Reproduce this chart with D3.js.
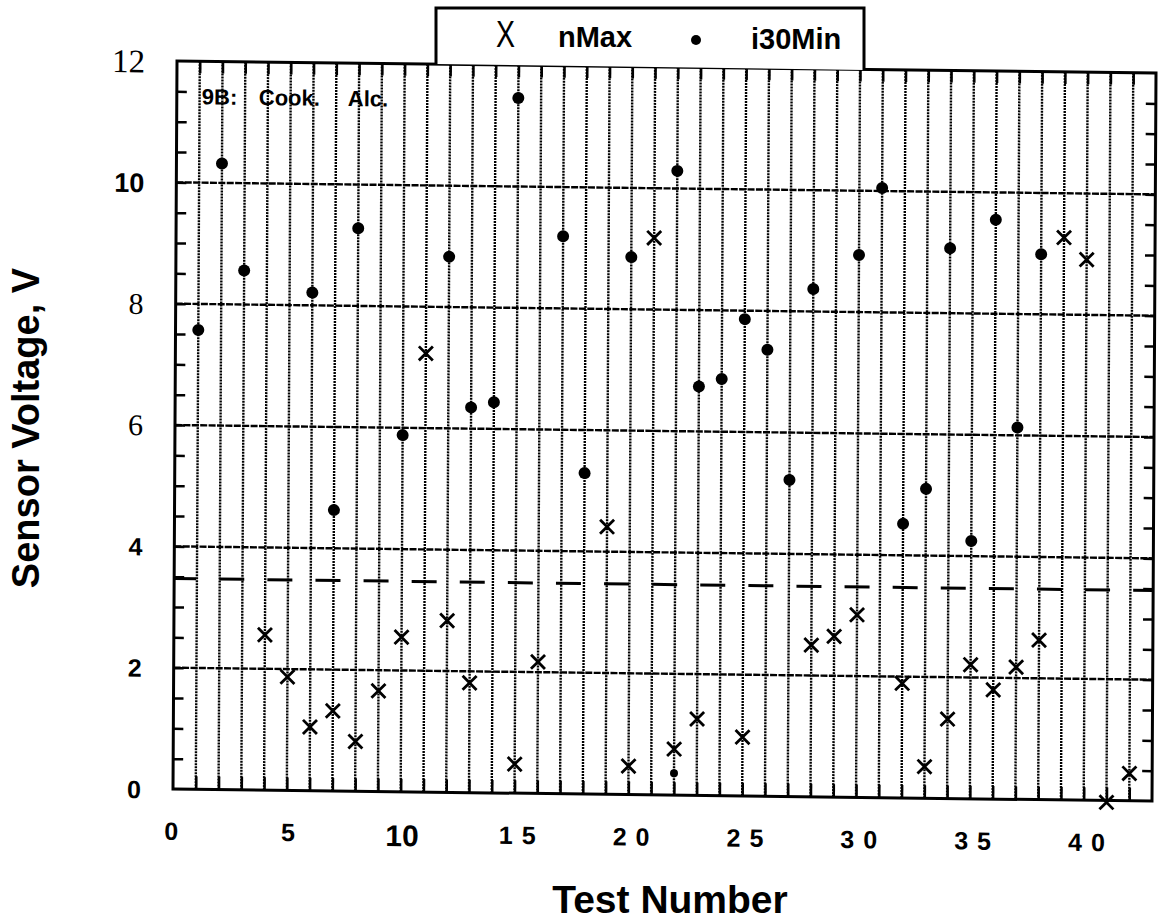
<!DOCTYPE html>
<html><head><meta charset="utf-8">
<script src="https://cdn.jsdelivr.net/npm/d3@7"></script>
<style>
html,body{margin:0;padding:0;background:#fff;}
svg{display:block;background:#fff;}
text{fill:#000;}
</style></head>
<body><svg id="chart" width="1163" height="922"></svg>
<script>
// ---- data ----
const tests = d3.range(1, 43);
const nMax = [null,null,null,2.56,1.87,1.05,1.32,0.82,1.66,2.55,7.23,2.83,1.81,null,0.48,2.17,null,null,4.41,0.47,9.18,0.76,1.26,null,0.97,null,null,2.50,2.65,3.01,null,1.89,0.52,1.31,2.21,1.80,2.18,2.63,9.27,8.91,-0.03,0.45];
const i30Min = [7.57,10.32,8.56,null,null,8.21,4.63,9.28,null,5.88,null,8.83,6.35,6.44,11.46,null,9.19,5.29,null,8.86,null,10.29,6.74,6.87,7.86,7.36,5.22,8.37,null,8.94,10.05,4.52,5.10,9.07,4.25,9.55,6.13,8.99,null,null,null,null];
const strayTests = [22];
const strayValues = [0.36];
const refLevel = [3.47];
const yGridValues = [2, 4, 6, 8, 10];
const yLabelValues = [0, 2, 4, 6, 8, 10, 12];
const serifLabels = [12, 8, 6];
const xLabelValues = [0, 5, 10, 15, 20, 25, 30, 35, 40];
const seriesNames = ["nMax", "i30Min"];
const panelWords = ["9B:", "Cook.", "Alc."];
const xTitle = "Test Number";
const yTitle = "Sensor Voltage, V";

// ---- layout ----
const ox = 173, oy = 789;
const x = d3.scaleLinear().domain([0, 43]).range([173, 1152]);
const y = d3.scaleLinear().domain([0, 12]).range([789, 61]);
const svg = d3.select("#chart");
const SANS = "'Liberation Sans', Arial, Helvetica, sans-serif";
const SERIF = "'Liberation Serif', 'Times New Roman', serif";

// scanned page is slightly skewed
const g = svg.append("g")
  .attr("transform", `translate(${ox},${oy}) matrix(1,0.0123,-0.0055,1,0,0) translate(${-ox},${-oy})`);

// vertical dotted grid
g.append("g").selectAll("line").data(tests).join("line")
  .attr("x1", d => x(d)).attr("x2", d => x(d))
  .attr("y1", y(0)).attr("y2", y(12))
  .attr("stroke", "#000").attr("stroke-width", 2.4)
  .attr("stroke-dasharray", "2,1");

// horizontal grid
g.append("g").selectAll("line").data(yGridValues).join("line")
  .attr("x1", x(0)).attr("x2", x(43))
  .attr("y1", d => y(d)).attr("y2", d => y(d))
  .attr("stroke", "#000").attr("stroke-width", 2.4)
  .attr("stroke-dasharray", "7,1.4");

// reference dashed level
g.append("g").selectAll("line").data(refLevel).join("line")
  .attr("x1", x(0)).attr("x2", x(43))
  .attr("y1", d => y(d)).attr("y2", d => y(d))
  .attr("stroke", "#000").attr("stroke-width", 3)
  .attr("stroke-dasharray", "25,23.1").attr("stroke-dashoffset", 3);

// inward ticks
function clean(sel){ sel.select(".domain").remove(); sel.selectAll(".tick line").attr("stroke","#000").attr("stroke-width",2.5); }
g.append("g").attr("transform", `translate(0,${y(0)})`)
  .call(d3.axisBottom(x).tickValues(tests).tickSize(-13).tickFormat("")).call(clean);
g.append("g").attr("transform", `translate(0,${y(12)})`)
  .call(d3.axisTop(x).tickValues(tests).tickSize(-12).tickFormat("")).call(clean);
g.append("g").attr("transform", `translate(${x(0)},0)`)
  .call(d3.axisLeft(y).tickValues(d3.range(0.5, 12, 0.5)).tickSize(-10).tickFormat("")).call(clean);
g.append("g").attr("transform", `translate(${x(43)},0)`)
  .call(d3.axisRight(y).tickValues(d3.range(0.5, 12, 0.5)).tickSize(-10).tickFormat("")).call(clean);

// frame
g.append("rect").attr("x", x(0)).attr("y", y(12))
  .attr("width", x(43) - x(0)).attr("height", y(0) - y(12))
  .attr("fill", "none").attr("stroke", "#000").attr("stroke-width", 3);

// y tick labels
const yl = g.append("g").attr("transform", `translate(${x(0)},0)`)
  .call(d3.axisLeft(y).tickValues(yLabelValues).tickSize(0).tickPadding(32).tickFormat(d3.format("d")));
yl.select(".domain").remove();
yl.selectAll(".tick text")
  .attr("fill", "#000")
  .style("font-family", d => serifLabels.includes(d) ? SERIF : SANS)
  .style("font-weight", d => serifLabels.includes(d) ? "normal" : "bold")
  .style("font-size", d => d === 12 ? "33px" : serifLabels.includes(d) ? "30px" : d === 10 ? "27px" : "25px")
  .attr("dy", d => serifLabels.includes(d) ? "0.34em" : "0.36em");

// x tick labels
const xl = g.append("g").attr("transform", `translate(0,${y(0)})`)
  .call(d3.axisBottom(x).tickValues(xLabelValues).tickSize(0).tickPadding(33).tickFormat(d3.format("d")));
xl.select(".domain").remove();
xl.selectAll(".tick text")
  .attr("fill", "#000")
  .style("font-family", SANS).style("font-weight", "bold")
  .style("font-size", d => d === 10 ? "30px" : "25px")
  .style("letter-spacing", d => d >= 15 ? "9px" : "0px")
  .attr("dx", d => d >= 15 ? 7 : d === 0 ? -2 : 1);

// panel label
const pl = g.append("text").attr("y", 104)
  .style("font-family", SANS).style("font-weight", "bold").style("font-size", "22px");
pl.selectAll("tspan").data(panelWords).join("tspan")
  .attr("x", (d, i) => [198, 255, 344][i]).text(d => d);

// markers
const xPath = "M-7,-7L7,7M-7,7L7,-7";
g.append("g").selectAll("path")
  .data(tests.map((t, i) => ({t, v: nMax[i]})).filter(d => d.v !== null))
  .join("path")
  .attr("transform", d => `translate(${x(d.t)},${y(d.v)})`)
  .attr("d", xPath).attr("fill", "none").attr("stroke", "#000").attr("stroke-width", 2.8);
g.append("g").selectAll("circle")
  .data(tests.map((t, i) => ({t, v: i30Min[i]})).filter(d => d.v !== null))
  .join("circle")
  .attr("cx", d => x(d.t)).attr("cy", d => y(d.v)).attr("r", 6).attr("fill", "#000");
g.append("g").selectAll("circle")
  .data(strayTests.map((t, i) => ({t, v: strayValues[i]})))
  .join("circle")
  .attr("cx", d => x(d.t)).attr("cy", d => y(d.v)).attr("r", 4).attr("fill", "#000");

// legend
const lg = svg.append("g");
lg.append("path").attr("d", "M436,64V8H864V70").attr("fill", "#fff").attr("stroke", "#000").attr("stroke-width", 3);
lg.append("text").attr("x", 496).attr("y", 47).attr("textLength", 19).attr("lengthAdjust", "spacingAndGlyphs")
  .style("font-family", SANS).style("font-size", "37px").text("X");
lg.append("text").attr("x", 558).attr("y", 47)
  .style("font-family", SANS).style("font-weight", "bold").style("font-size", "29px").text(seriesNames[0]);
lg.append("circle").attr("cx", 696).attr("cy", 40).attr("r", 5).attr("fill", "#000");
lg.append("text").attr("x", 751).attr("y", 49)
  .style("font-family", SANS).style("font-weight", "bold").style("font-size", "29px").text(seriesNames[1]);

// axis titles
svg.append("text").attr("transform", "translate(39,428) rotate(-90)")
  .attr("text-anchor", "middle")
  .style("font-family", SANS).style("font-weight", "bold").style("font-size", "38px").text(yTitle);
svg.append("text").attr("x", 670).attr("y", 913).attr("text-anchor", "middle")
  .style("font-family", SANS).style("font-weight", "bold").style("font-size", "39px").text(xTitle);
</script>
</body></html>
